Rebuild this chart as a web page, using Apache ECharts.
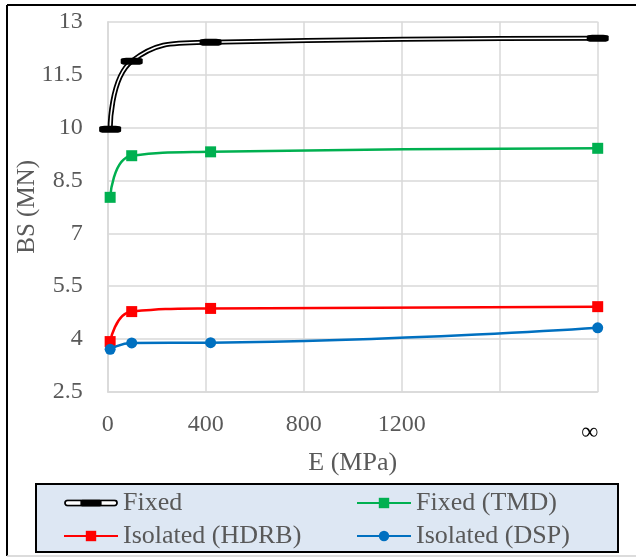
<!DOCTYPE html>
<html>
<head>
<meta charset="utf-8">
<script src="https://cdn.jsdelivr.net/npm/echarts@6/dist/echarts.min.js"></script>
<style>
html,body{margin:0;padding:0;background:#fff;}
#chart{width:636px;height:557px;}
</style>
</head>
<body>
<div id="chart"></div>
<script>
// E (MPa) positions; the last point stands for E = infinity, drawn at the axis end
var eValues = [10, 98, 420, 2000];
var fixed = [9.95, 11.88, 12.42, 12.53];
var fixedTMD = [8.02, 9.2, 9.31, 9.41];
var isoHDRB = [3.93, 4.78, 4.87, 4.92];
var isoDSP = [3.71, 3.89, 3.9, 4.32];
var seriesNames = ['Fixed', 'Fixed (TMD)', 'Isolated (HDRB)', 'Isolated (DSP)'];
var xTickLabels = {0: '0', 400: '400', 800: '800', 1200: '1200', 1600: '', 2000: '∞'};
var yTicks = {min: 2.5, max: 13, step: 1.5};

function pairs(ys){ return eValues.map(function(x,i){ return [x, ys[i]]; }); }

var FONT = 'Liberation Serif';
var GRAY = '#595959';
var GRID = '#d9d9d9';

var fixedIcon = 'image://data:image/svg+xml;utf8,' + encodeURIComponent(
 '<svg xmlns="http://www.w3.org/2000/svg" width="56" height="8" viewBox="0 0 56 8">' +
 '<rect x="1" y="1.3" width="54" height="5.4" rx="2.7" fill="#fff" stroke="#000" stroke-width="1.8"/>' +
 '<rect x="17" y="0.5" width="22" height="7" rx="2" fill="#000"/></svg>');

var chart = echarts.init(document.getElementById('chart'), null, {renderer: 'canvas'});
var legendText = {fontFamily: FONT, fontSize: 26, color: GRAY, lineHeight: 30};
var option = {
  animation: false,
  backgroundColor: '#fff',
  grid: {left: 107.7, right: 38.3, top: 21.7, bottom: 165, containLabel: false},
  xAxis: {
    type: 'value', min: 0, max: 2000, interval: 400,
    name: 'E (MPa)', nameLocation: 'middle', nameGap: 54,
    nameTextStyle: {fontFamily: FONT, fontSize: 26, color: GRAY},
    axisLine: {show: true, lineStyle: {color: GRID, width: 1.5}},
    axisTick: {show: false},
    splitLine: {show: true, lineStyle: {color: GRID, width: 1.5}},
    axisLabel: {
      fontFamily: FONT, fontSize: 24, color: GRAY, margin: 21,
      formatter: function(v){
        var t = xTickLabels[v];
        if (t === '∞') return '{inf|∞}';
        return t === undefined ? '' : t;
      },
      rich: {inf: {fontFamily: FONT, fontSize: 24, color: '#000', padding: [8, 16, 0, 0]}}
    }
  },
  yAxis: {
    type: 'value', min: yTicks.min, max: yTicks.max, interval: yTicks.step,
    name: 'BS (MN)', nameLocation: 'middle', nameGap: 68, nameMoveOverlap: false,
    nameTextStyle: {fontFamily: FONT, fontSize: 25, color: GRAY},
    axisLine: {show: true, lineStyle: {color: GRID, width: 1.5}},
    axisTick: {show: false},
    splitLine: {show: true, lineStyle: {color: GRID, width: 1.5}},
    axisLabel: {fontFamily: FONT, fontSize: 24, color: GRAY, margin: 25}
  },
  legend: [
    {
      orient: 'vertical', left: 63, top: 488, padding: 0, itemGap: 3,
      itemWidth: 54, itemHeight: 13,
      textStyle: legendText,
      data: [{name: 'Fixed', icon: fixedIcon}, {name: 'Isolated (HDRB)'}]
    },
    {
      orient: 'vertical', left: 356, top: 488, padding: 0, itemGap: 3,
      itemWidth: 54, itemHeight: 13,
      textStyle: legendText,
      data: [{name: 'Fixed (TMD)'}, {name: 'Isolated (DSP)'}]
    }
  ],
  graphic: [
    {type: 'rect', z: 0, shape: {x: 36, y: 484, width: 582, height: 68},
     style: {fill: '#dde7f3', stroke: '#000', lineWidth: 2}},
    {type: 'line', shape: {x1: 7, y1: 5, x2: 640, y2: 5}, style: {stroke: '#000', lineWidth: 2}},
    {type: 'line', shape: {x1: 7, y1: 5, x2: 7, y2: 556}, style: {stroke: '#000', lineWidth: 2}},
    {type: 'line', shape: {x1: 7, y1: 556, x2: 640, y2: 556}, style: {stroke: '#d0d0d0', lineWidth: 1.5}}
  ],
  series: [
    {
      name: seriesNames[0], type: 'line', data: pairs(fixed), smooth: 0.5,
      showSymbol: false, symbol: 'none', z: 5,
      itemStyle: {color: '#000'},
      lineStyle: {color: '#000', width: 5}
    },
    {
      name: seriesNames[0], type: 'line', data: pairs(fixed), smooth: 0.5,
      symbol: 'roundRect', symbolSize: [22, 7], z: 6,
      itemStyle: {color: '#000'},
      lineStyle: {color: '#fff', width: 1.5}
    },
    {
      name: seriesNames[1], type: 'line', data: pairs(fixedTMD), smooth: 0.5,
      symbol: 'rect', symbolSize: 11, z: 4,
      itemStyle: {color: '#00b050'},
      lineStyle: {color: '#00b050', width: 2.5}
    },
    {
      name: seriesNames[2], type: 'line', data: pairs(isoHDRB), smooth: 0.5,
      symbol: 'rect', symbolSize: 11, z: 3,
      itemStyle: {color: '#ff0000'},
      lineStyle: {color: '#ff0000', width: 2.5}
    },
    {
      name: seriesNames[3], type: 'line', data: pairs(isoDSP), smooth: 0.5,
      symbol: 'circle', symbolSize: 11, z: 4,
      itemStyle: {color: '#0070c0'},
      lineStyle: {color: '#0070c0', width: 2.5}
    }
  ]
};
chart.setOption(option);
</script>
</body>
</html>
